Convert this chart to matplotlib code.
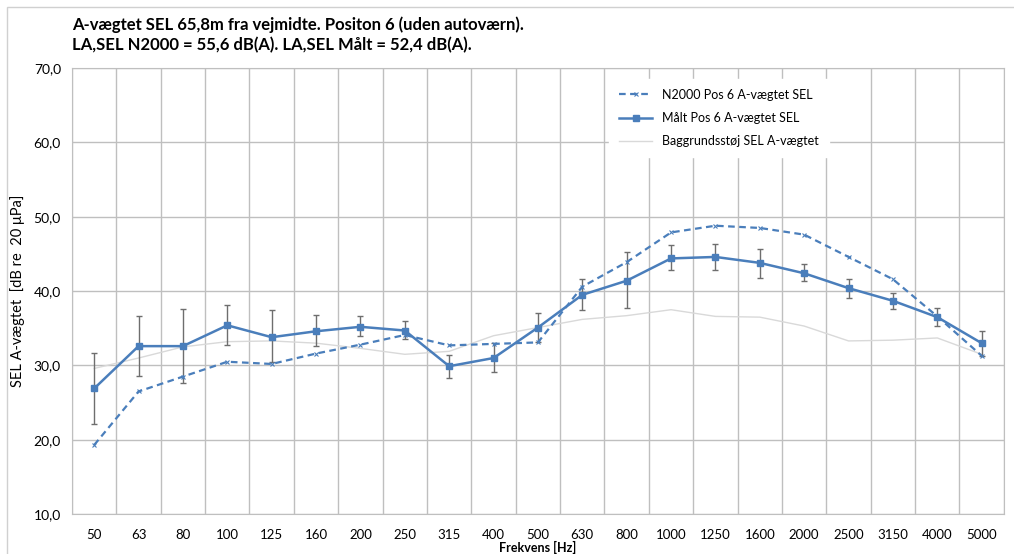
import numpy as np
import matplotlib
matplotlib.use('Agg')
import matplotlib.pyplot as plt
from matplotlib.patches import Rectangle

# Data
freqs = ['50', '63', '80', '100', '125', '160', '200', '250', '315', '400', '500',
         '630', '800', '1000', '1250', '1600', '2000', '2500', '3150', '4000', '5000']
n2000 = [19.3, 26.5, 28.5, 30.5, 30.2, 31.6, 32.8, 34.1, 32.7, 32.9, 33.1,
         40.6, 43.9, 47.9, 48.8, 48.5, 47.6, 44.6, 41.6, 36.6, 31.3]
maalt = [26.9, 32.6, 32.6, 35.4, 33.8, 34.6, 35.2, 34.7, 29.9, 31.0, 35.1,
         39.5, 41.4, 44.4, 44.6, 43.8, 42.4, 40.4, 38.7, 36.5, 33.0]
maalt_hi = [31.7, 36.6, 37.6, 38.2, 37.5, 36.8, 36.7, 36.0, 31.4, 33.0, 37.1,
            41.6, 45.2, 46.2, 46.3, 45.7, 43.6, 41.6, 39.7, 37.7, 34.7]
maalt_lo = [22.1, 28.6, 27.6, 32.7, 30.4, 32.6, 33.9, 33.5, 28.3, 29.1, 33.1,
            37.4, 37.7, 42.8, 42.9, 41.8, 41.3, 39.1, 37.6, 35.3, 31.3]
baggrund = [29.6, 31.0, 32.5, 33.2, 33.3, 33.0, 32.3, 31.5, 31.9, 34.0, 35.1,
            36.2, 36.7, 37.5, 36.6, 36.5, 35.3, 33.3, 33.4, 33.7, 31.5]

BLUE = '#4A7EBB'
plt.rcParams['font.family'] = ['Lato', 'DejaVu Sans']

fig = plt.figure(figsize=(10.14, 5.54), dpi=100)
ax = fig.add_axes([0.071, 0.072, 0.919, 0.805])

x = np.arange(len(freqs))
m = np.array(maalt)
yerr = [m - np.array(maalt_lo), np.array(maalt_hi) - m]

ax.plot(x, n2000, color=BLUE, lw=1.6, ls=(0, (3, 2)), marker='x', ms=3.5,
        mew=0.8, label='N2000 Pos 6 A-vægtet SEL', zorder=4)
ax.errorbar(x, maalt, yerr=yerr, fmt='none', ecolor='#6E6E6E', elinewidth=1.0,
            capsize=2.5, capthick=1.0, zorder=3)
ax.plot(x, maalt, color=BLUE, lw=1.8, marker='s', ms=4, label='Målt Pos 6 A-vægtet SEL',
        zorder=5)
ax.plot(x, baggrund, color='#D9D9D9', lw=1.0, label='Baggrundsstøj SEL A-vægtet',
        zorder=2)

ax.set_xlim(-0.5, len(freqs) - 0.5)
ax.set_ylim(10, 70)
ax.set_yticks(np.arange(10, 71, 10))
ax.set_yticklabels([f'{v:.1f}'.replace('.', ',') for v in range(10, 71, 10)], fontsize=10)
ax.set_xticks(x)
ax.set_xticklabels(freqs, fontsize=9.5, fontstretch='condensed')
ax.set_xticks(np.arange(-0.5, len(freqs), 1), minor=True)
ax.tick_params(axis='x', which='major', length=0, pad=11)
ax.tick_params(axis='x', which='minor', length=0)
ax.tick_params(axis='y', length=0, pad=8)
ax.grid(axis='y', which='major', color='#BFBFBF', lw=1.0)
ax.grid(axis='x', which='minor', color='#BFBFBF', lw=1.0)
ax.grid(axis='x', which='major', visible=False)
ax.set_axisbelow(True)
for s in ax.spines.values():
    s.set_color('#BFBFBF')

ax.set_ylabel('SEL A-vægtet  [dB re  20 μPa]', fontsize=10.5, labelpad=6)
ax.set_xlabel('Frekvens [Hz]', fontsize=9, fontweight='bold', labelpad=0)

leg = ax.legend(loc='upper left', bbox_to_anchor=(0.57, 0.99), fontsize=9,
                frameon=True, fancybox=False, edgecolor='white', framealpha=1,
                handlelength=2.6, labelspacing=0.9, borderpad=0.8)

fig.text(0.071, 0.945, 'A-vægtet SEL 65,8m fra vejmidte. Positon 6 (uden autoværn).',
         fontsize=12, fontweight='bold')
fig.text(0.071, 0.909, 'LA,SEL N2000 = 55,6 dB(A). LA,SEL Målt = 52,4 dB(A).',
         fontsize=12, fontweight='bold')

fig.patches.append(Rectangle((0.007, -0.01), 1.0, 0.997, transform=fig.transFigure,
                             fill=False, edgecolor='#D0D0D0', lw=1.0))

fig.savefig('out.png', dpi=100)
